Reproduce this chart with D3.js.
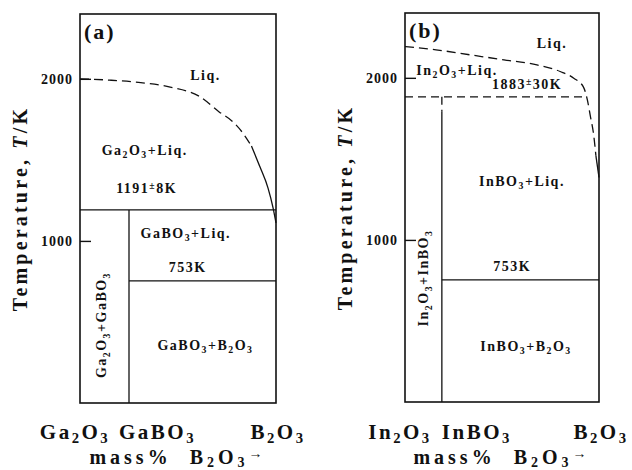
<!DOCTYPE html>
<html>
<head>
<meta charset="utf-8">
<script src="https://cdn.jsdelivr.net/npm/d3@7"></script>
<style>
  body { margin: 0; background: #fff; }
  svg text { font-family: "Liberation Serif", "Times New Roman", "DejaVu Serif", serif; font-weight: bold; fill: #111; }
</style>
</head>
<body>
<svg id="chart" width="632" height="470"></svg>
<script>
// ---- data ----
const tempTicks = [1000, 2000];
const tempMax = 2400;

// (a) Ga2O3 - B2O3
const gaLiqDashed = [[0, 2000], [15, 1992], [31, 1977], [46, 1949], [61, 1891], [71, 1796], [78, 1735], [83, 1667], [87.5, 1585]];
const gaLiqSolid = [[87.5, 1585], [91.8, 1457], [95.9, 1327], [98.5, 1204], [100, 1111]];
const gaEutectic = 1191;
const gaLowLine = 753;
const gaBO3Comp = 25;
const gaRegionText = ["Liq.", "Ga2O3+Liq.", "1191±8K", "GaBO3+Liq.", "753K", "GaBO3+B2O3"];
const gaRegionComp = [64, 33, 34, 54, 55, 64];
const gaRegionTemp = [1994, 1531, 1296, 1019, 809, 327];
const gaSideText = "Ga2O3+GaBO3";
const gaSideComp = 13.3;
const gaSideTemp = 481;
const gaAxisText = ["Ga2O3", "GaBO3", "B2O3"];
const gaAxisComp = [0, 25, 100];

// (b) In2O3 - B2O3
const inLiqDashed = [[0, 2193], [16, 2173], [33.5, 2142], [51, 2111], [68, 2080], [80, 2039], [87, 1998], [92, 1943], [94, 1864], [95.5, 1767], [97.3, 1644], [98.4, 1520]];
const inLiqSolid = [[98.4, 1520], [100, 1385]];
const inEutectic = 1883;
const inEutecticEnd = 93.8;
const inLowLine = 753;
const inBO3Comp = 19;
const inBO3DashEnd = 1790;
const inRegionText = ["Liq.", "In2O3+Liq.", "1883±30K", "InBO3+Liq.", "753K", "InBO3+B2O3"];
const inRegionComp = [75.8, 26.8, 62.9, 60.3, 55.2, 62.4];
const inRegionTemp = [2185, 2018, 1932, 1333, 809, 315];
const inSideText = "In2O3+InBO3";
const inSideComp = 11.9;
const inSideTemp = 765;
const inAxisText = ["In2O3", "InBO3", "B2O3"];
const inAxisComp = [0, 19, 100];

const svg = d3.select("#chart");

// 化学式：字母后的数字做下标，± 和 → 缩小上移
function formula(sel, str, fs, subK = 0.25) {
  const toks = [];
  for (let i = 0; i < str.length; i++) {
    const c = str[i], p = str[i - 1];
    let t = "n";
    if (/[0-9]/.test(c) && p && /[A-Za-z]/.test(p)) t = "sub";
    else if (c === "±" || c === "→") t = "sym";
    if (toks.length && toks[toks.length - 1].t === t) toks[toks.length - 1].s += c;
    else toks.push({ t, s: c });
  }
  let shift = 0;
  toks.forEach(k => {
    const target = k.t === "sub" ? fs * subK : k.t === "sym" ? -fs * 0.3 : 0;
    sel.append("tspan")
      .attr("dy", target - shift)
      .style("font-size", k.t === "n" ? fs + "px" : (fs * 0.7) + "px")
      .text(k.s);
    shift = target;
  });
}

function drawPanel(cfg) {
  const x = d3.scaleLinear().domain([0, 100]).range([cfg.left, cfg.left + cfg.width]);
  const y = d3.scaleLinear().domain([0, tempMax]).range([cfg.top + cfg.height, cfg.top]);
  const g = svg.append("g");

  // 边框
  g.append("rect")
    .attr("x", x(0)).attr("y", y(tempMax))
    .attr("width", x(100) - x(0)).attr("height", y(0) - y(tempMax))
    .attr("fill", "none").attr("stroke", "#111").attr("stroke-width", 1.6);

  // 纵轴刻度（朝内）
  const axis = g.append("g")
    .attr("transform", `translate(${x(0)},0)`)
    .call(d3.axisLeft(y).tickValues(tempTicks).tickFormat(d3.format("d"))
      .tickSizeInner(-11).tickSizeOuter(0).tickPadding(7));
  axis.attr("font-family", null);
  axis.select(".domain").remove();
  axis.selectAll("line").attr("stroke", "#111").attr("stroke-width", 1.4);
  axis.selectAll("text")
    .style("font-size", "14px")
    .style("letter-spacing", "1px")
    .attr("dy", "0.36em");

  const line = d3.line().x(d => x(d[0])).y(d => y(d[1]));
  const curve = d3.line().x(d => x(d[0])).y(d => y(d[1])).curve(d3.curveMonotoneX);

  // 相界线
  cfg.segments.forEach(s => {
    g.append("path")
      .attr("d", line(s.pts))
      .attr("fill", "none")
      .attr("stroke", "#111")
      .attr("stroke-width", 1.3)
      .attr("stroke-dasharray", s.dashed ? "8,5" : null);
  });

  // 液相线
  g.append("path").attr("d", curve(cfg.liqDashed))
    .attr("fill", "none").attr("stroke", "#111").attr("stroke-width", 1.3)
    .attr("stroke-dasharray", "9,5");
  g.append("path").attr("d", curve(cfg.liqSolid))
    .attr("fill", "none").attr("stroke", "#111").attr("stroke-width", 1.3);

  // 相区标注
  cfg.regionText.forEach((t, i) => {
    const tx = g.append("text")
      .attr("x", x(cfg.regionComp[i]))
      .attr("y", y(cfg.regionTemp[i]))
      .attr("text-anchor", "middle")
      .style("letter-spacing", "1.5px");
    formula(tx, t, 14);
  });

  // 竖排标注
  const side = g.append("text")
    .attr("transform", `translate(${x(cfg.sideComp)},${y(cfg.sideTemp)}) rotate(-90)`)
    .attr("text-anchor", "middle")
    .style("letter-spacing", "1.5px");
  formula(side, cfg.sideText, 14);

  // 面板编号
  g.append("text")
    .attr("x", x(0) + 4)
    .attr("y", y(tempMax) + 25)
    .style("font-size", "22px")
    .style("letter-spacing", "2px")
    .text(cfg.tag);

  // 纵轴标题
  const yt = g.append("text")
    .attr("transform", `translate(${x(0) - 53},${(y(0) + y(tempMax)) / 2}) rotate(-90)`)
    .attr("text-anchor", "middle")
    .style("font-size", "20px")
    .style("letter-spacing", "3.2px");
  yt.append("tspan").text("Temperature, ");
  yt.append("tspan").style("font-style", "italic").text("T");
  yt.append("tspan").text("/K");

  // 横轴组分标注
  cfg.axisText.forEach((t, i) => {
    const anchor = i === 1 ? "start" : "middle";
    const dx = i === 0 ? -5 : i === 1 ? cfg.midShift : 2;
    const tx = g.append("text")
      .attr("x", x(cfg.axisComp[i]) + dx)
      .attr("y", 438.5)
      .attr("text-anchor", anchor)
      .style("letter-spacing", "2.5px");
    formula(tx, t, 21, 0.2);
  });

  const xt = g.append("text")
    .attr("x", (x(0) + x(100)) / 2)
    .attr("y", 464)
    .attr("text-anchor", "middle")
    .style("letter-spacing", "4px")
    .attr("xml:space", "preserve");
  formula(xt, "mass%  B2O3→", 20, 0.15);
}

drawPanel({
  tag: "(a)", left: 80, top: 14, width: 196, height: 389, midShift: -10,
  liqDashed: gaLiqDashed, liqSolid: gaLiqSolid,
  segments: [
    { pts: [[0, gaEutectic], [100, gaEutectic]] },
    { pts: [[gaBO3Comp, gaEutectic], [gaBO3Comp, 0]] },
    { pts: [[gaBO3Comp, gaLowLine], [100, gaLowLine]] }
  ],
  regionText: gaRegionText, regionComp: gaRegionComp, regionTemp: gaRegionTemp,
  sideText: gaSideText, sideComp: gaSideComp, sideTemp: gaSideTemp,
  axisText: gaAxisText, axisComp: gaAxisComp
});

drawPanel({
  tag: "(b)", left: 405, top: 13, width: 194, height: 389, midShift: 0,
  liqDashed: inLiqDashed, liqSolid: inLiqSolid,
  segments: [
    { pts: [[0, inEutectic], [inEutecticEnd, inEutectic]], dashed: true },
    { pts: [[inBO3Comp, inEutectic], [inBO3Comp, inBO3DashEnd]], dashed: true },
    { pts: [[inBO3Comp, inBO3DashEnd], [inBO3Comp, 0]] },
    { pts: [[inBO3Comp, inLowLine], [100, inLowLine]] }
  ],
  regionText: inRegionText, regionComp: inRegionComp, regionTemp: inRegionTemp,
  sideText: inSideText, sideComp: inSideComp, sideTemp: inSideTemp,
  axisText: inAxisText, axisComp: inAxisComp
});
</script>
</body>
</html>
